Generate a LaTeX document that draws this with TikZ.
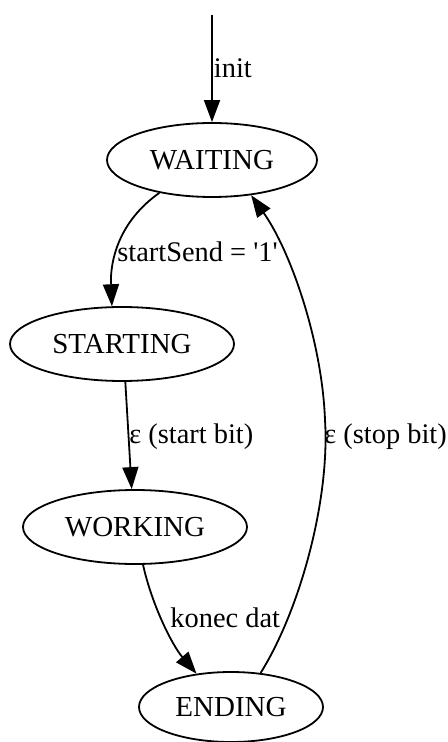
\documentclass[tikz,border=0pt]{standalone}
\usepackage{fontspec}
\setmainfont{Liberation Serif}
\usetikzlibrary{arrows.meta,shapes.geometric}
\begin{document}
\begin{tikzpicture}[x=0.5pt,y=-0.5pt,
  state/.style={ellipse,draw,line width=0.9pt,inner sep=0pt,minimum height=37pt,font=\fontsize{14.5}{16}\selectfont},
  edge/.style={line width=0.9pt,-{Triangle[length=11pt,width=8pt]}},
  lbl/.style={anchor=west,inner sep=0pt,font=\fontsize{14.2}{16}\selectfont}]
\useasboundingbox (0,0) rectangle (448,742);
\node[state,minimum width=105pt] (w) at (212,160) {WAITING};
\node[state,minimum width=112pt] (s) at (122,344) {STARTING};
\node[state,minimum width=112pt] (k) at (135,527) {WORKING};
\node[state,minimum width=92pt,minimum height=35pt] (e) at (231,707) {ENDING};
\coordinate (start) at (212,15);
\draw[edge] (start) -- (w.north) node[lbl,pos=0.5,xshift=0.5pt] {init};
\draw[edge] (w.212) .. controls (118,222) and (110,262) .. (s.105);
\node[lbl] (l1) at (117,252) {startSend = \textquotesingle 1\textquotesingle};
\draw[edge] (s.275) -- (k.95);
\node[lbl] (l2) at (129,437) {ε (start bit)};
\draw[edge] (k.282) .. controls (152,605) and (172,645) .. (e.136);
\node[lbl] (l3) at (170,618) {konec dat};
\draw[edge] (e.49) .. controls (300,610) and (330,500) .. (325,420)
  .. controls (322,340) and (290,250) .. (w.318);
\node[lbl] (l4) at (324,437) {ε (stop bit)};
\end{tikzpicture}
\end{document}
